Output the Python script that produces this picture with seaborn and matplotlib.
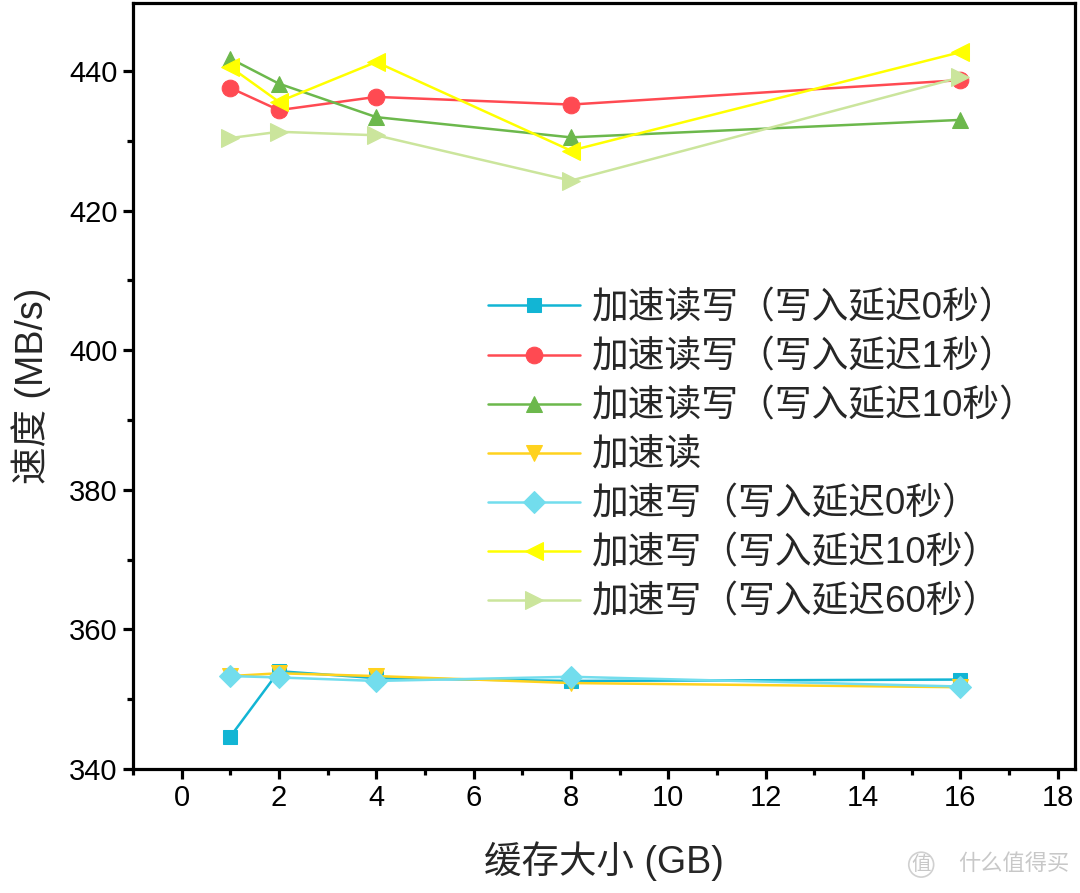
import matplotlib
matplotlib.use("Agg")
import matplotlib.pyplot as plt
import seaborn as sns
import pandas as pd
from matplotlib.ticker import MultipleLocator

sns.set_theme(style="white")
plt.rcParams['font.family'] = ['Liberation Sans', 'Noto Sans CJK SC', 'DejaVu Sans']

cache_gb = [1, 2, 4, 8, 16]
labels = ["加速读写（写入延迟0秒）", "加速读写（写入延迟1秒）", "加速读写（写入延迟10秒）",
          "加速读", "加速写（写入延迟0秒）", "加速写（写入延迟10秒）", "加速写（写入延迟60秒）"]
rw_0s = [344.6, 354.0, 353.0, 352.6, 352.8]
rw_1s = [437.6, 434.4, 436.3, 435.2, 438.7]
rw_10s = [441.8, 438.2, 433.4, 430.5, 433.0]
read_only = [353.3, 353.7, 353.3, 352.3, 351.7]
write_0s = [353.3, 353.1, 352.6, 353.2, 351.8]
write_10s = [440.6, 435.6, 441.3, 428.6, 442.7]
write_60s = [430.4, 431.3, 430.8, 424.3, 439.1]
series = [rw_0s, rw_1s, rw_10s, read_only, write_0s, write_10s, write_60s]

colors = ["#12B5D4", "#FF4A52", "#6CB84C", "#FFD21E", "#72DDED", "#FFFF00", "#CBE59C"]
markers = ["s", "o", "^", "v", "D", "<", ">"]
msizes = [10, 12, 12, 12, 11, 13, 13]

fig = plt.figure(figsize=(10.8, 8.93), dpi=100)
ax = fig.add_axes([0.123, 0.139, 0.872, 0.858])

for lab, vals, c, m, ms in zip(labels, series, colors, markers, msizes):
    df = pd.DataFrame({"x": cache_gb, "y": vals})
    sns.lineplot(data=df, x="x", y="y", ax=ax, color=c, marker=m, markersize=ms,
                 markeredgecolor=c, linewidth=1.8, label=lab)

ax.set_xlim(-1, 18.35)
ax.set_ylim(340, 449.8)
ax.xaxis.set_major_locator(MultipleLocator(2))
ax.xaxis.set_minor_locator(MultipleLocator(1))
ax.yaxis.set_major_locator(MultipleLocator(20))
ax.yaxis.set_minor_locator(MultipleLocator(10))
ax.tick_params(axis="both", which="major", direction="out", length=7, width=2.3,
               labelsize=21, color="black", labelcolor="black", pad=4,
               bottom=True, left=True)
ax.tick_params(axis="both", which="minor", direction="out", length=4, width=2.3,
               color="black", bottom=True, left=True)
for sp in ax.spines.values():
    sp.set_linewidth(2.3)
    sp.set_color("black")

ax.set_xlabel("缓存大小 (GB)", fontsize=27, labelpad=21)
ax.set_ylabel("速度 (MB/s)", fontsize=27, labelpad=13)

leg = ax.legend(loc="lower right", bbox_to_anchor=(0.975, 0.174), frameon=False,
                borderaxespad=0, fontsize=26.5, handlelength=2.5, labelspacing=0.38,
                handletextpad=0.3)

fig.text(0.99, 0.02, "什么值得买", ha="right", va="bottom", fontsize=16,
         color="#c8c8c8", family=['Noto Sans CJK SC', 'DejaVu Sans'])
fig.text(0.862, 0.02, "值", ha="right", va="bottom", fontsize=14,
         color="#c8c8c8", family=['Noto Sans CJK SC', 'DejaVu Sans'],
         bbox=dict(boxstyle="circle,pad=0.1", fc="none", ec="#d0d0d0", lw=1.2))

fig.savefig("out.png", dpi=100)
